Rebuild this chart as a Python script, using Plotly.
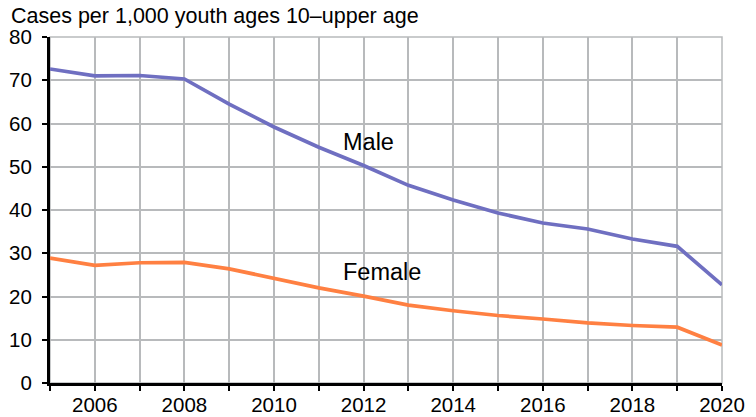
import plotly.graph_objects as go

years = list(range(2005, 2021))
male = [72.6, 71.0, 71.1, 70.3, 64.5, 59.2, 54.5, 50.3, 45.7, 42.3, 39.3, 37.0, 35.6, 33.3, 31.6, 22.7]
female = [28.9, 27.2, 27.8, 27.9, 26.4, 24.2, 22.0, 20.1, 18.0, 16.7, 15.6, 14.8, 13.9, 13.3, 12.9, 8.8]
tick_years = years
tick_text = [str(y) if y % 2 == 0 else "" for y in years]
y_ticks = [0, 10, 20, 30, 40, 50, 60, 70, 80]

MALE_C = "#6f6fc1"
FEMALE_C = "#ff8042"
GRID = "#b8babc"
FONT = "Liberation Sans, Arial, Helvetica, sans-serif"

fig = go.Figure()
fig.add_trace(go.Scatter(x=years, y=male, mode="lines", line=dict(color=MALE_C, width=3.7), showlegend=False))
fig.add_trace(go.Scatter(x=years, y=female, mode="lines", line=dict(color=FEMALE_C, width=3.7), showlegend=False))

fig.add_annotation(x=2012.1, y=55.7, text="Male", showarrow=False, font=dict(size=23.5, color="black", family=FONT))
fig.add_annotation(x=2012.4, y=25.7, text="Female", showarrow=False, font=dict(size=23.5, color="black", family=FONT))
fig.add_annotation(x=0, xref="paper", xanchor="left", y=1.0, yref="paper", yanchor="middle",
                   text="Cases per 1,000 youth ages 10\u2013upper age", showarrow=False,
                   font=dict(size=21.5, color="black", family=FONT), xshift=-41, yshift=21)

fig.add_shape(type="rect", xref="paper", yref="paper", x0=0, y0=0, x1=1, y1=1,
              line=dict(color=GRID, width=1.5), layer="below")

fig.update_layout(
    width=748, height=409,
    margin=dict(l=42, r=34, t=29, b=34),
    paper_bgcolor="white", plot_bgcolor="white",
    font=dict(family=FONT, size=21.5, color="black"),
    xaxis=dict(range=[2005, 2020], tickvals=tick_years, ticktext=tick_text,
               showgrid=True, gridcolor=GRID, gridwidth=1.5,
               showline=True, linecolor="black", linewidth=3,
               ticks="outside", ticklen=5, tickwidth=1.5, tickcolor="black",
               ticklabelstandoff=-4, automargin=False,
               zeroline=False, tickfont=dict(size=20.5)),
    yaxis=dict(range=[0, 80], tickvals=y_ticks,
               showgrid=True, gridcolor=GRID, gridwidth=1.5,
               showline=True, linecolor="black", linewidth=3,
               ticks="outside", ticklen=5, tickwidth=1.5, tickcolor="black",
               ticklabelstandoff=6, automargin=False,
               zeroline=False, tickfont=dict(size=20.5)),
)

fig.write_html("out.html")
